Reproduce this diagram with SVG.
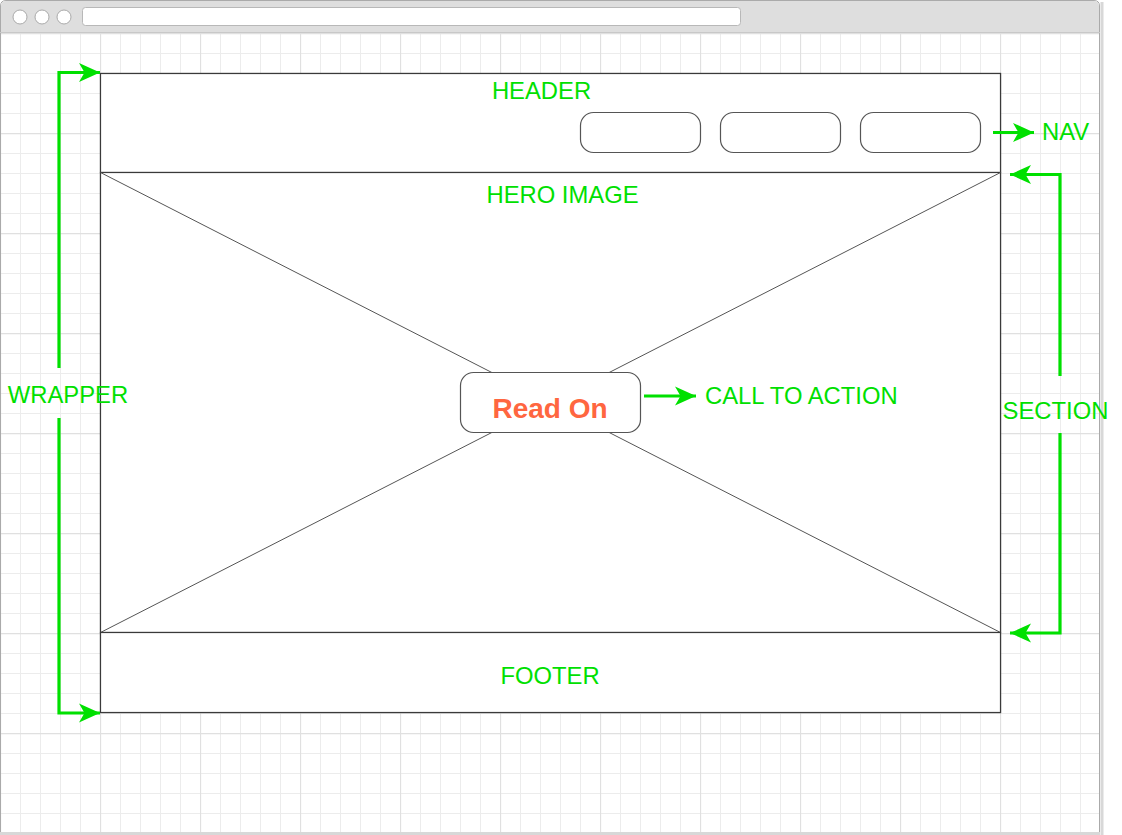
<svg xmlns="http://www.w3.org/2000/svg" width="1122" height="835" viewBox="0 0 1122 835">
<defs>
<style>
.lbl{font-family:"Liberation Sans",Arial,sans-serif;font-size:23.8px;fill:#00e000;}
.box{fill:#fff;stroke:#3a3a3a;stroke-width:1.2;}
.navbtn{fill:#fff;stroke:#555;stroke-width:1.2;}
.xl{stroke:#555;stroke-width:1;}
.conn{fill:none;stroke:#00e000;stroke-width:3.2;}
.minor{stroke:#ececec;stroke-width:1;}
.major{stroke:#e0e0e0;stroke-width:1.3;}
</style>
<marker id="ah" markerUnits="userSpaceOnUse" markerWidth="26" markerHeight="22" viewBox="0 0 26 22" refX="24" refY="11" orient="auto">
<path d="M24,11 L3,1.5 L8.5,11 L3,20.5 Z" fill="#00e000"/>
</marker>
<pattern id="gmin" width="20" height="20" patternUnits="userSpaceOnUse" x="0" y="13">
<path d="M0.5,0 V20 M0,0.5 H20" class="minor" fill="none"/>
</pattern>
<pattern id="gmaj" width="100" height="100" patternUnits="userSpaceOnUse" x="0" y="33">
<path d="M0.5,0 V100 M0,0.5 H100" class="major" fill="none"/>
</pattern>
</defs>
<rect width="1122" height="835" fill="#fff"/>
<g id="browser">
<rect x="0" y="32" width="1100" height="801" fill="url(#gmin)"/>
<rect x="0" y="32" width="1100" height="801" fill="url(#gmaj)"/>
<rect x="1100.5" y="2" width="3" height="833" fill="#d8d8d8"/>
<path d="M0.5,833 V6 Q0.5,0.5 6,0.5 H1094 Q1099.5,0.5 1099.5,6 V833" fill="none" stroke="#aaa"/>
<path d="M1,32 V6 Q1,1 6,1 H1094 Q1099,1 1099,6 V32 Z" fill="#dedede"/>
<line x1="0" y1="32.5" x2="1100" y2="32.5" stroke="#c8c8c8"/>
<rect x="0" y="832" width="1100" height="3" fill="#d8d8d8"/>
<circle cx="20" cy="17" r="7" fill="#fff" stroke="#aaa"/>
<circle cx="42" cy="17" r="7" fill="#fff" stroke="#aaa"/>
<circle cx="64" cy="17" r="7" fill="#fff" stroke="#aaa"/>
<rect x="82.5" y="7.5" width="658" height="18" rx="3" fill="#fff" stroke="#b8b8b8"/>
</g>
<g id="wrapper"><rect class="box" x="100.5" y="73.5" width="900" height="639"/></g>
<g id="header"><rect class="box" x="100.5" y="73.5" width="900" height="99"/></g>
<g id="hero">
<rect class="box" x="100.5" y="172.5" width="900" height="460"/>
<line class="xl" x1="100.5" y1="172.5" x2="1000.5" y2="632.5"/>
<line class="xl" x1="1000.5" y1="172.5" x2="100.5" y2="632.5"/>
</g>
<g id="footer"><rect class="box" x="100.5" y="632.5" width="900" height="80"/></g>
<g id="nav">
<rect class="navbtn" x="580.5" y="112.5" width="120" height="40" rx="13"/>
<rect class="navbtn" x="720.5" y="112.5" width="120" height="40" rx="13"/>
<rect class="navbtn" x="860.5" y="112.5" width="120" height="40" rx="13"/>
</g>
<g id="cta">
<rect class="navbtn" x="460.5" y="372.5" width="180" height="60" rx="13"/>
<text x="550" y="418" text-anchor="middle" font-family="Liberation Sans, Arial, sans-serif" font-weight="bold" font-size="28" fill="#ff6640">Read On</text>
</g>
<g id="connectors">
<path class="conn" d="M59,368 V72.5 H100" marker-end="url(#ah)"/>
<path class="conn" d="M59,418 V713 H100" marker-end="url(#ah)"/>
<path class="conn" d="M1060,376 V174.5 H1010" marker-end="url(#ah)"/>
<path class="conn" d="M1060,433 V633 H1010" marker-end="url(#ah)"/>
<path class="conn" d="M993,132.5 H1034" marker-end="url(#ah)"/>
<path class="conn" d="M644,396 H696" marker-end="url(#ah)"/>
</g>
<g id="labels">
<text class="lbl" x="541.5" y="99" text-anchor="middle">HEADER</text>
<text class="lbl" x="562.5" y="203" text-anchor="middle">HERO IMAGE</text>
<text class="lbl" x="550" y="684" text-anchor="middle">FOOTER</text>
<text class="lbl" x="68" y="403" text-anchor="middle">WRAPPER</text>
<text class="lbl" x="705" y="404">CALL TO ACTION</text>
<text class="lbl" x="1055.5" y="418.5" text-anchor="middle">SECTION</text>
<text class="lbl" x="1042" y="139.5">NAV</text>
</g>
</svg>
